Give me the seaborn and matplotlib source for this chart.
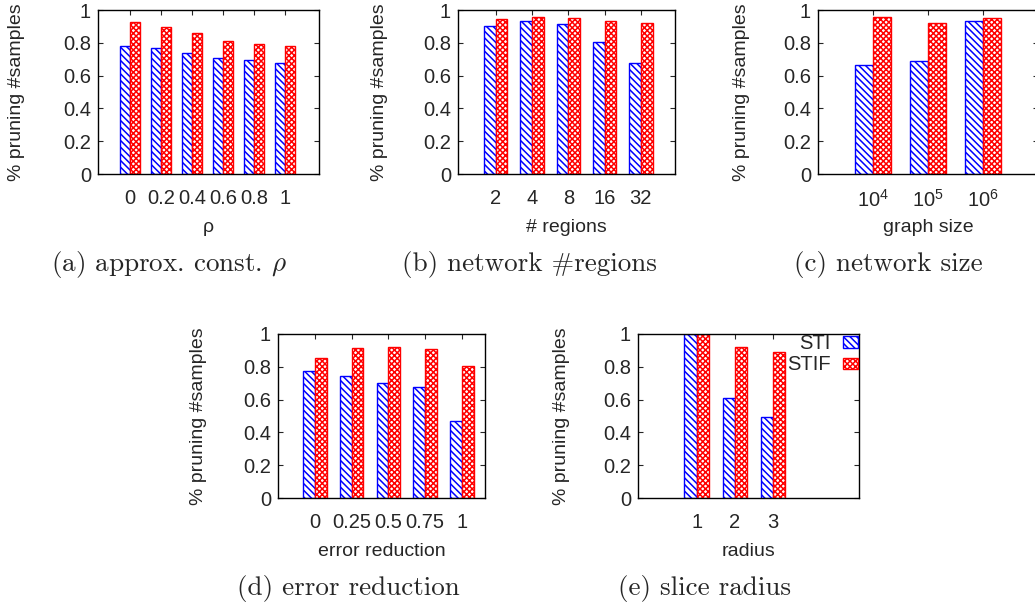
import matplotlib
matplotlib.use("Agg")
import matplotlib.pyplot as plt
from matplotlib.patches import Patch
import seaborn as sns
import pandas as pd

# ---------------- data ----------------
series_names = ["STI", "STIF"]

rho_labels = ["0", "0.2", "0.4", "0.6", "0.8", "1"]
rho_sti = [0.782, 0.768, 0.737, 0.707, 0.694, 0.678]
rho_stif = [0.929, 0.898, 0.859, 0.811, 0.794, 0.780]

regions_labels = ["2", "4", "8", "16", "32"]
regions_sti = [0.902, 0.933, 0.914, 0.804, 0.678]
regions_stif = [0.945, 0.957, 0.951, 0.931, 0.921]

size_labels = ["10$^{4}$", "10$^{5}$", "10$^{6}$"]
size_sti = [0.666, 0.690, 0.933]
size_stif = [0.957, 0.921, 0.951]

err_labels = ["0", "0.25", "0.5", "0.75", "1"]
err_sti = [0.776, 0.744, 0.701, 0.677, 0.472]
err_stif = [0.856, 0.917, 0.921, 0.911, 0.805]

rad_labels = ["1", "2", "3"]
rad_sti = [1.0, 0.610, 0.494]
rad_stif = [1.0, 0.921, 0.890]

y_ticks = [0, 0.2, 0.4, 0.6, 0.8, 1.0]
y_tick_labels = ["0", "0.2", "0.4", "0.6", "0.8", "1"]
y_label = "% pruning #samples"

# ---------------- style ----------------
sns.set_style("ticks")
plt.rcParams["font.family"] = ["Liberation Sans", "DejaVu Sans"]
plt.rcParams["mathtext.fontset"] = "custom"
plt.rcParams["mathtext.rm"] = "Liberation Sans"
plt.rcParams["mathtext.it"] = "Liberation Sans:italic"
plt.rcParams["hatch.linewidth"] = 1.1

FS = 14
TFS = 14.5
CFS = 19.5
W, H = 1035, 606
fig = plt.figure(figsize=(W / 100, H / 100), dpi=100)

colors = {"STI": "#0000ff", "STIF": "#ff0000"}
hatches = {"STI": "\\\\\\\\\\", "STIF": "xxxxxx"}


def panel(box, xlim, labels, sti, stif, xlabel, ylab_px, caption, cap_xy):
    l, r, t, b = box
    ax = fig.add_axes([l / W, 1 - b / H, (r - l) / W, (b - t) / H])
    df = pd.DataFrame({
        "cat": labels * 2,
        "series": ["STI"] * len(labels) + ["STIF"] * len(labels),
        "value": list(sti) + list(stif),
    })
    sns.barplot(data=df, x="cat", y="value", hue="series", order=labels,
                hue_order=series_names, palette=colors, fill=False,
                width=0.64, linewidth=1.0, errorbar=None, legend=False, ax=ax)
    for cont, name in zip(ax.containers, series_names):
        for p in cont.patches:
            p.set_facecolor("white")
            p.set_edgecolor(colors[name])
            p.set_hatch(hatches[name])
            p.set_linewidth(1.0)
    ax.set_xlim(*xlim)
    ax.set_ylim(0, 1)
    ax.set_yticks(y_ticks)
    ax.set_yticklabels(y_tick_labels, fontsize=TFS)
    ax.set_xticks(range(len(labels)))
    ax.set_xticklabels(labels, fontsize=TFS)
    ax.tick_params(axis="both", direction="in", length=3.5, width=0.8,
                   top=True, right=True, bottom=True, left=True)
    ax.tick_params(axis="y", pad=5)
    ax.tick_params(axis="x", pad=11)
    for s in ax.spines.values():
        s.set_visible(True)
        s.set_linewidth(1.0)
        s.set_color("black")
    ax.set_xlabel(xlabel, fontsize=FS)
    ax.set_ylabel(y_label, fontsize=FS)
    ax.yaxis.set_label_coords((ylab_px - l) / (r - l), 0.5)
    ax.xaxis.set_label_coords(0.5, -45 / (b - t))
    fig.text(cap_xy[0] / W, 1 - cap_xy[1] / H, caption, fontsize=CFS,
             family="cmr10", math_fontfamily="cm", ha="center", va="center")
    return ax


panel((98, 319, 10, 174), (-1.03, 6.1), rho_labels, rho_sti, rho_stif,
      "ρ", 25, "(a) approx. const. $\\rho$", (169, 265))
panel((458, 675, 10, 174), (-1.04, 4.94), regions_labels, regions_sti,
      regions_stif, "# regions", 388, "(b) network #regions", (529, 265))
panel((818, 1038, 10, 174), (-1.0, 3.0), size_labels, size_sti, size_stif,
      "graph size", 750, "(c) network size", (888, 265))
panel((278, 485, 334, 498), (-1.0, 4.63), err_labels, err_sti, err_stif,
      "error reduction", 207, "(d) error reduction", (348, 588))
ax_e = panel((638, 859, 334, 498), (-1.53, 4.24), rad_labels, rad_sti,
             rad_stif, "radius", 570, "(e) slice radius", (704, 588))

handles = [Patch(facecolor="white", edgecolor=colors[n], hatch=hatches[n],
                 linewidth=1.0) for n in series_names]
ax_e.legend(handles, series_names, loc="upper right",
            bbox_to_anchor=(858 / W, 1 - 334 / H),
            bbox_transform=fig.transFigure, markerfirst=False,
            frameon=False, fontsize=TFS, handlelength=0.75,
            handleheight=0.5, handletextpad=0.6, labelspacing=0.12,
            borderpad=0, borderaxespad=0)

fig.savefig("out.png", dpi=100)
